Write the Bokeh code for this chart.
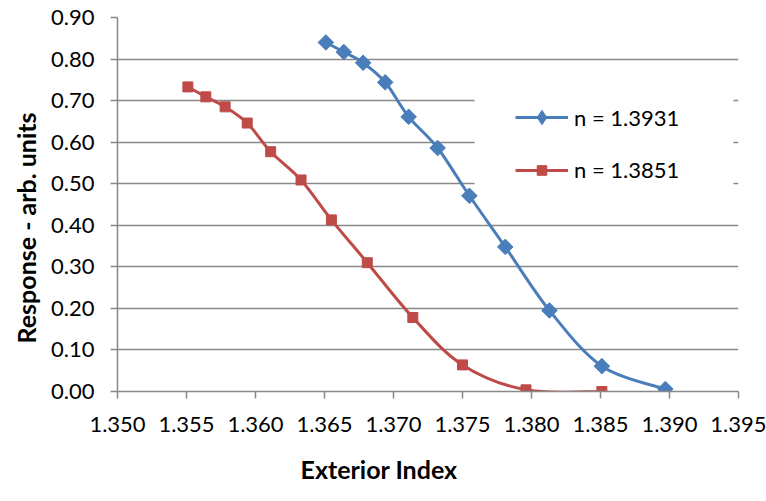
import numpy as np
from bokeh.plotting import figure
from bokeh.models import (ColumnDataSource, Legend, LegendItem, Title, Range1d, BoxAnnotation,
                          FixedTicker, NumeralTickFormatter)
from bokeh.embed import file_html
from bokeh.resources import INLINE

# ---- data ----
x_blue = [1.3651, 1.3664, 1.3678, 1.3694, 1.3711, 1.3732, 1.3755, 1.3781, 1.3813, 1.3851, 1.3897]
y_blue = [0.840, 0.817, 0.791, 0.744, 0.661, 0.586, 0.471, 0.348, 0.195, 0.061, 0.006]
x_red = [1.3551, 1.3564, 1.3578, 1.3594, 1.3611, 1.3633, 1.3655, 1.3681, 1.3714, 1.3750, 1.3796, 1.3851]
y_red = [0.733, 0.709, 0.685, 0.646, 0.577, 0.509, 0.413, 0.310, 0.178, 0.064, 0.004, 0.000]
series_names = ["n = 1.3931", "n = 1.3851"]
x_ticks = [1.350, 1.355, 1.360, 1.365, 1.370, 1.375, 1.380, 1.385, 1.390, 1.395]
y_ticks = [0.00, 0.10, 0.20, 0.30, 0.40, 0.50, 0.60, 0.70, 0.80, 0.90]
x_title = "Exterior Index"
y_title = "Response - arb. units"

BLUE = "#4A7EBB"
RED = "#BE4B48"
GRID = "#898989"
FONT = "Lato"


def smooth_source(xs, ys, t=1.0 / 6.0):
    """Cubic Bezier segments between consecutive data points (Excel-style smoothing)."""
    xs = np.asarray(xs, dtype=float)
    ys = np.asarray(ys, dtype=float)
    px = np.concatenate([[xs[0]], xs, [xs[-1]]])
    py = np.concatenate([[ys[0]], ys, [ys[-1]]])
    n = len(xs)
    d = dict(x0=[], y0=[], x1=[], y1=[], cx0=[], cy0=[], cx1=[], cy1=[])
    for i in range(n - 1):
        d["x0"].append(px[i + 1]); d["y0"].append(py[i + 1])
        d["x1"].append(px[i + 2]); d["y1"].append(py[i + 2])
        d["cx0"].append(px[i + 1] + (px[i + 2] - px[i]) * t)
        d["cy0"].append(py[i + 1] + (py[i + 2] - py[i]) * t)
        d["cx1"].append(px[i + 2] - (px[i + 3] - px[i + 1]) * t)
        d["cy1"].append(py[i + 2] - (py[i + 3] - py[i + 1]) * t)
    return ColumnDataSource(d)


p = figure(width=766, height=501, output_backend="svg", toolbar_location=None,
           x_range=Range1d(1.350, 1.395), y_range=Range1d(0.0, 0.9),
           min_border_left=117, min_border_right=28, min_border_top=17, min_border_bottom=109)
p.outline_line_color = None
p.background_fill_color = "white"
p.border_fill_color = "white"

# grid
p.xgrid.grid_line_color = None
p.ygrid.grid_line_color = GRID
p.ygrid.grid_line_width = 1.5
p.ygrid.ticker = FixedTicker(ticks=y_ticks)

# axes
for ax in (p.xaxis[0], p.yaxis[0]):
    ax.axis_line_color = GRID
    ax.axis_line_width = 1.5
    ax.major_tick_line_color = GRID
    ax.major_tick_line_width = 1.5
    ax.major_tick_in = 0
    ax.major_tick_out = 7
    ax.minor_tick_line_color = None
    ax.major_label_text_font = FONT
    ax.major_label_text_font_size = "22px"
    ax.major_label_text_color = "black"
p.xaxis[0].ticker = FixedTicker(ticks=x_ticks)
p.yaxis[0].ticker = FixedTicker(ticks=y_ticks)
p.xaxis[0].formatter = NumeralTickFormatter(format="0.000")
p.yaxis[0].formatter = NumeralTickFormatter(format="0.00")
p.xaxis[0].major_label_standoff = 18
p.yaxis[0].major_label_standoff = 16

# legend background panel (covers the gridlines like the original legend box)
p.add_layout(BoxAnnotation(left=357, right=616, top=322, bottom=177,
                           left_units="screen", right_units="screen",
                           top_units="screen", bottom_units="screen",
                           fill_color="white", fill_alpha=1.0, line_color=None,
                           level="underlay"))

# series
lb = p.bezier(x0="x0", y0="y0", x1="x1", y1="y1", cx0="cx0", cy0="cy0", cx1="cx1", cy1="cy1",
              source=smooth_source(x_blue, y_blue), line_color=BLUE, line_width=3)
mb = p.scatter(x_blue, y_blue, marker="square", angle=np.pi / 4, size=11,
               fill_color=BLUE, line_color=BLUE)
# legend-only diamond (legend markers are drawn unrotated)
mb_leg = p.scatter(x_blue, y_blue, marker="diamond", size=14,
                   fill_color=BLUE, line_color=BLUE, visible=False)
lr = p.bezier(x0="x0", y0="y0", x1="x1", y1="y1", cx0="cx0", cy0="cy0", cx1="cx1", cy1="cy1",
              source=smooth_source(x_red, y_red), line_color=RED, line_width=3)
mr = p.scatter(x_red, y_red, marker="square", size=10, fill_color=RED, line_color=RED)

common = dict(orientation="vertical", glyph_width=53, padding=0, margin=0, label_standoff=6,
              label_text_font=FONT, label_text_font_size="22px", label_text_color="black",
              border_line_color=None, background_fill_color="white", background_fill_alpha=1.0)
leg_blue = Legend(items=[LegendItem(label=series_names[0], renderers=[lb, mb_leg])],
                  location=(398, 256), glyph_height=36, label_height=36, **common)
leg_red = Legend(items=[LegendItem(label=series_names[1], renderers=[lr, mr])],
                 location=(398, 208), glyph_height=24, label_height=24, **common)
p.add_layout(leg_blue)
p.add_layout(leg_red)

# axis titles
title_style = dict(text_font=FONT, text_font_style="bold", text_font_size="25px", text_color="black")
p.add_layout(Title(text=x_title, align="left", offset=183, standoff=35, **title_style), "below")
p.add_layout(Title(text=y_title, align="left", offset=48, standoff=15, **title_style), "left")

open("out.html", "w").write(file_html(p, INLINE))
